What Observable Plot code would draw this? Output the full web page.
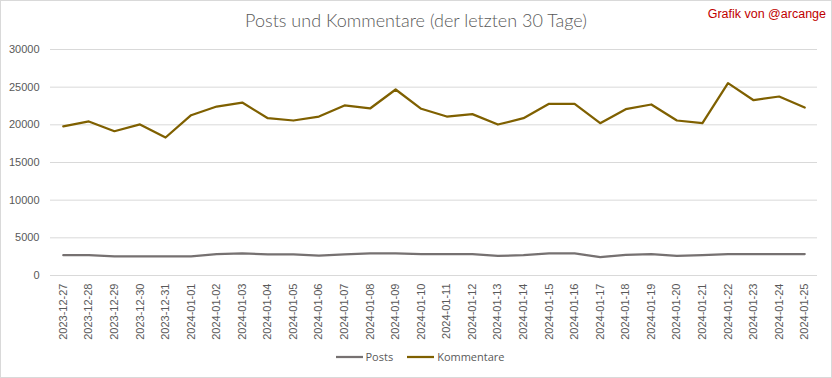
<!DOCTYPE html>
<html><head><meta charset="utf-8">
<script src="https://cdn.jsdelivr.net/npm/d3@7"></script>
<script src="https://cdn.jsdelivr.net/npm/@observablehq/plot@0.6"></script>
<style>
body{margin:0;background:#fff;}
#chart{position:relative;width:832px;height:378px;overflow:hidden;background:#fff;}
#chart svg{position:absolute;left:0;top:0;}
.frame{position:absolute;left:0;top:0;width:832px;height:378px;box-sizing:border-box;border:1px solid #d9d9d9;pointer-events:none;}
.title{position:absolute;left:0;width:832px;top:9px;text-align:center;font-family:Lato,"Liberation Sans",sans-serif;font-size:18px;color:#595959;font-weight:300;}
.credit{position:absolute;right:6px;top:7px;font-family:"Liberation Sans",sans-serif;font-size:12.5px;color:#c00000;}
.legend{position:absolute;left:4px;width:832px;top:349px;display:flex;justify-content:center;gap:14px;font-family:"Open Sans",sans-serif;font-size:11px;color:#595959;}
.legend span{display:flex;align-items:center;gap:3px;}
</style></head><body>
<div id="chart"></div>
<script>
const dates = ["2023-12-27","2023-12-28","2023-12-29","2023-12-30","2023-12-31","2024-01-01","2024-01-02","2024-01-03","2024-01-04","2024-01-05","2024-01-06","2024-01-07","2024-01-08","2024-01-09","2024-01-10","2024-01-11","2024-01-12","2024-01-13","2024-01-14","2024-01-15","2024-01-16","2024-01-17","2024-01-18","2024-01-19","2024-01-20","2024-01-21","2024-01-22","2024-01-23","2024-01-24","2024-01-25"];
const posts = [2700,2700,2550,2550,2550,2550,2850,2950,2800,2800,2650,2800,2950,2950,2850,2850,2850,2600,2700,2950,2950,2450,2750,2850,2600,2700,2850,2850,2850,2850];
const kommentare = [19800,20450,19150,20050,18320,21280,22430,22960,20880,20575,21100,22570,22170,24690,22130,21100,21420,20040,20880,22790,22790,20220,22080,22700,20575,20220,25530,23270,23760,22300];
const seriesNames = ["Posts","Kommentare"];
const seriesColors = ["#767171","#7f6000"];
const yTicks = [0,5000,10000,15000,20000,25000,30000];
const titleText = "Posts und Kommentare (der letzten 30 Tage)";
const creditText = "Grafik von @arcange";

const data = dates.flatMap((d,i)=>[
  {date:d, series:"Posts", value:posts[i]},
  {date:d, series:"Kommentare", value:kommentare[i]}
]);

const plot = Plot.plot({
  width:832, height:378,
  marginTop:49, marginBottom:103, marginLeft:50, marginRight:15,
  style:{fontFamily:"'Liberation Sans',sans-serif", fontSize:"11px", color:"#595959", background:"transparent"},
  x:{type:"point", domain:dates, padding:0.5, round:false, label:null, tickRotate:-90, tickSize:0, tickPadding:8},
  y:{domain:[0,30000], ticks:yTicks, tickFormat:d3.format("d"), label:null, tickSize:0, tickPadding:11},
  color:{domain:seriesNames, range:seriesColors},
  marks:[
    Plot.gridY(yTicks, {stroke:"#d9d9d9", strokeOpacity:1, strokeWidth:1}),
    Plot.lineY(data, {x:"date", y:"value", z:"series", stroke:"series", strokeWidth:2.25, strokeLinejoin:"round"})
  ]
});
const chart = document.getElementById("chart");
chart.appendChild(plot);

const t = document.createElement("div"); t.className="title"; t.textContent=titleText; chart.appendChild(t);
const c = document.createElement("div"); c.className="credit"; c.textContent=creditText; chart.appendChild(c);
const lg = document.createElement("div"); lg.className="legend";
seriesNames.forEach((n,i)=>{
  const s=document.createElement("span");
  s.innerHTML = `<svg width="27" height="4" style="position:static"><line x1="0" x2="27" y1="2" y2="2" stroke="${seriesColors[i]}" stroke-width="2.25"/></svg>`;
  s.appendChild(document.createTextNode(n));
  lg.appendChild(s);
});
chart.appendChild(lg);
const f = document.createElement("div"); f.className="frame"; chart.appendChild(f);
</script>
</body></html>
